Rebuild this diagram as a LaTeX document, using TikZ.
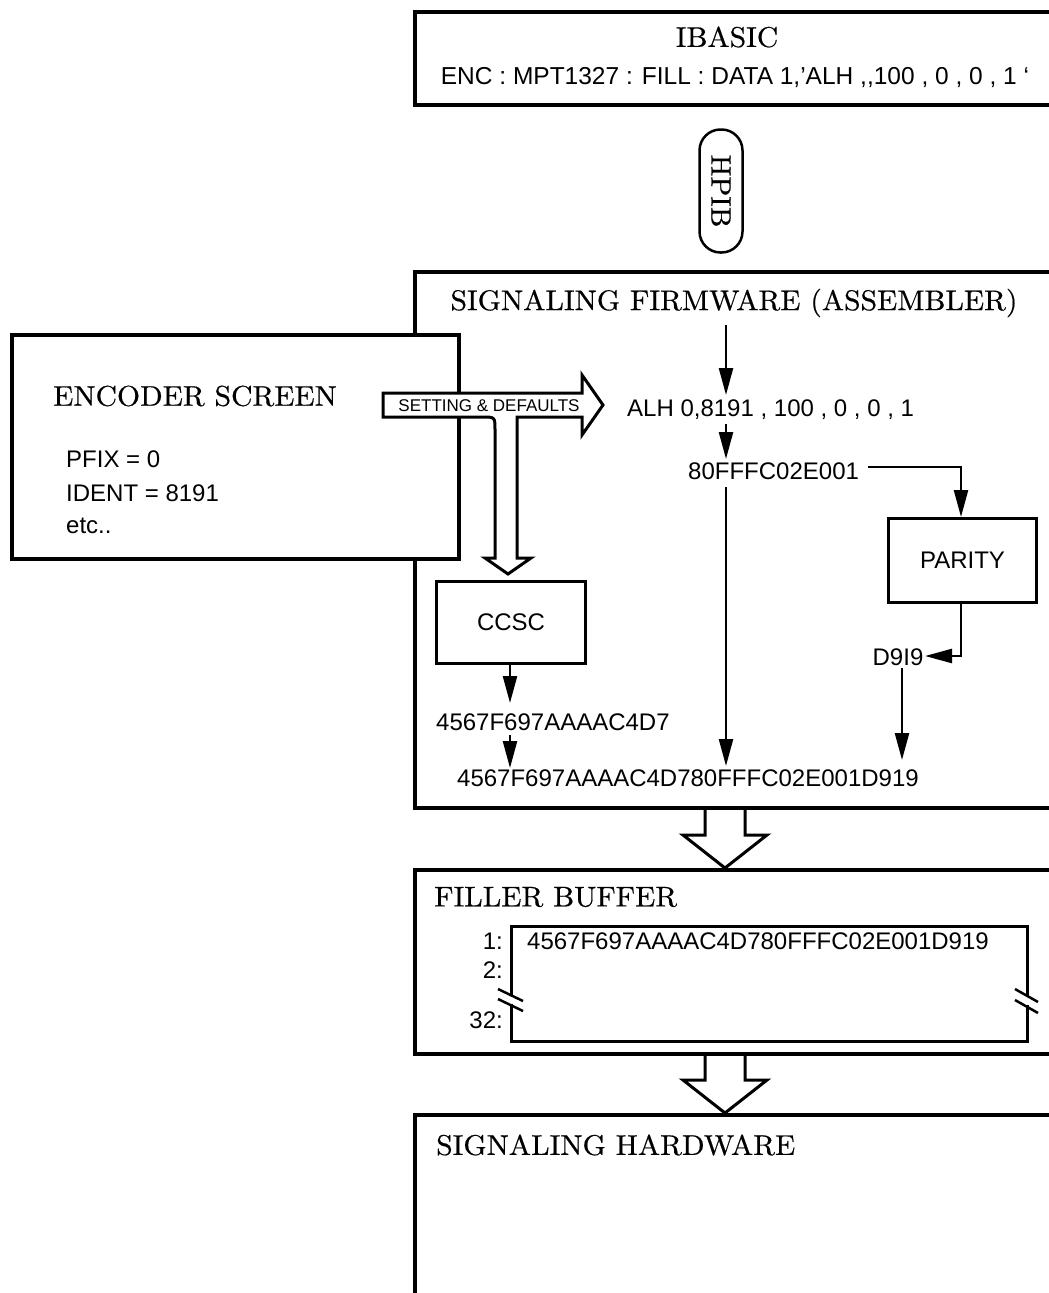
\documentclass[tikz,border=0pt]{standalone}
\usepackage{fontspec}
\newfontfamily\sansf{Liberation Sans}
\newfontfamily\serf[Extension=.otf,FakeStretch=1.04,FakeBold=0.5]{lmroman10-regular}
\usetikzlibrary{arrows.meta}
\begin{document}
\begin{tikzpicture}[x=1pt,y=-1pt,
  box/.style={draw,line width=3.5pt,fill=white,anchor=north west,inner sep=0pt},
  sbox/.style={draw,line width=3pt,fill=white,anchor=north west,inner sep=0pt},
  arr/.style={line width=2.4pt,-{Triangle[length=27pt,width=14pt]}},
  hol/.style={draw,line width=3pt,fill=white,line join=miter},
  st/.style={font=\sansf\fontsize{24}{28}\selectfont,inner sep=0pt},
  tt/.style={font=\serf\fontsize{28.5}{32}\selectfont,inner sep=0pt}]
\useasboundingbox (0,0) rectangle (1049,1293);
\clip (0,0) rectangle (1049,1293);
\fill[white] (0,0) rectangle (1049,1293);

% hollow down arrows between boxes
\draw[hol] (705,806) -- (705,835) -- (683,835) -- (725,868) -- (767,835) -- (745,835) -- (745,806);
\draw[hol] (705,1052) -- (705,1080) -- (683,1080) -- (725,1113) -- (767,1080) -- (745,1080) -- (745,1052);

% main boxes
\node[box,minimum width=680pt,minimum height=93pt] (ib) at (413,10) {};
\node[box,minimum width=680pt,minimum height=536pt] (fw) at (413,270) {};
\node[box,minimum width=680pt,minimum height=184pt] (fb) at (413,868) {};
\node[box,minimum width=680pt,minimum height=260pt] (hw) at (413,1113) {};

% IBASIC
\node[tt] (ibt) at (727,37) {IBASIC};
\node[st,font=\sansf\fontsize{24.5}{28}\selectfont] (enc) at (735,78) {ENC : MPT1327 : FILL : DATA 1,’ALH ,,100 , 0 , 0 , 1 ‘};

% HPIB capsule
\node[draw,line width=2.5pt,rounded corners=21pt,rotate=-90,minimum width=123pt,minimum height=43pt,inner sep=0pt,
  font=\serf\fontsize{28}{30}\selectfont] (hpib) at (721,191) {HPIB};

% firmware
\node[tt] (fwt) at (734,303) {SIGNALING FIRMWARE (ASSEMBLER)};

% encoder screen
\node[box,minimum width=447pt,minimum height=224pt] (es) at (10,333) {};
\node[tt,anchor=west] (est) at (53,396) {ENCODER SCREEN};
\node[st,anchor=west] (pf) at (66,459) {PFIX = 0};
\node[st,anchor=west] (id) at (66,493) {IDENT = 8191};
\node[st,anchor=west] (etc) at (66,526) {etc..};

% T shaped hollow arrow
\draw[hol] (383,393) -- (582,393) -- (582,375) -- (603,405) -- (582,435) -- (582,417)
  -- (517,417) -- (517,558) -- (531,558) -- (508,574) -- (485,558) -- (495,558)
  -- (495,430) .. controls (495,417) .. (482,417) -- (383,417) -- cycle;
\node[font=\sansf\fontsize{17}{20}\selectfont,inner sep=0pt] (sd) at (489,406) {SETTING \& DEFAULTS};

% text items in firmware
\node[st,anchor=west] (alh) at (627,410) {ALH 0,8191 , 100 , 0 , 0 , 1};
\node[st,anchor=west] (hx) at (688,471) {80FFFC02E001};
\node[sbox,minimum width=149pt,minimum height=82pt] (ccsc) at (435,580) {};
\node[st] (ccsct) at (ccsc.center) {CCSC};
\node[sbox,minimum width=148pt,minimum height=84pt] (par) at (887,517) {};
\node[st] (part) at (par.center) {PARITY};
\node[st] (d9) at (898,657) {D9I9};
\node[st,anchor=west] (cc) at (436,722) {4567F697AAAAC4D7};
\node[st] (fin) at (688,778) {4567F697AAAAC4D780FFFC02E001D919};

\coordinate (a1) at (726,325);
\coordinate (a1e) at (726,395);
\coordinate (a2) at (726,424);
\coordinate (a2e) at (726,459);
\coordinate (a3) at (726,487);
\coordinate (a3e) at (726,766);
\coordinate (p1) at (868,467);
\coordinate (pt) at (961,517);
\coordinate (pb) at (961,601);
\coordinate (d9e) at (925,656);
\coordinate (d9s) at (902,668);
\coordinate (d9t) at (902,760);
\coordinate (c1) at (510,662);
\coordinate (c1e) at (510,703);
\coordinate (c2) at (510,735);
\coordinate (c2e) at (510,768);

\draw[arr] (a1) -- (a1e);
\draw[arr] (a2) -- (a2e);
\draw[arr] (a3) -- (a3e);
\draw[arr] (p1) -| (pt);
\draw[arr] (pb) |- (d9e);
\draw[arr] (d9s) -- (d9t);
\draw[arr] (c1) -- (c1e);
\draw[arr] (c2) -- (c2e);

% filler buffer
\node[tt,anchor=west] (fbt) at (434,897) {FILLER BUFFER};
\node[sbox,minimum width=516pt,minimum height=115pt] (buf) at (510,925) {};
\fill[white] (506,996) rectangle (514,1004);
\fill[white] (1022,996) rectangle (1030,1005);
\draw[line width=2.5pt] (498,989) -- (523,1001) (498,999) -- (523,1011);
\draw[line width=2.5pt] (1015,989) -- (1038,1002) (1015,1000) -- (1038,1013);
\node[st,anchor=east] (l1) at (503,941) {1:};
\node[st,anchor=east] (l2) at (503,970) {2:};
\node[st,anchor=east] (l32) at (503,1020) {32:};
\node[st,anchor=west] (bt) at (527,941) {4567F697AAAAC4D780FFFC02E001D919};

% hardware
\node[tt,anchor=west] (hwt) at (436,1145) {SIGNALING HARDWARE};
\end{tikzpicture}
\end{document}
